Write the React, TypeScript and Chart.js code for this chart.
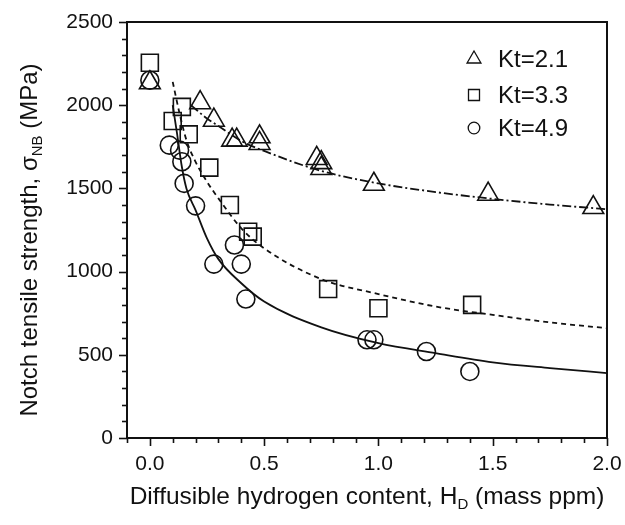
import React, { useEffect, useRef } from 'react';
import { Chart, registerables } from 'chart.js';

Chart.register(...registerables);

// ---- data ----
const seriesNames = ['Kt=2.1', 'Kt=3.3', 'Kt=4.9'];

const kt21X = [0.0, 0.22, 0.28, 0.36, 0.38, 0.48, 0.48, 0.73, 0.75, 0.75, 0.98, 1.48, 1.94];
const kt21Y = [2135, 2015, 1910, 1790, 1790, 1810, 1770, 1680, 1655, 1620, 1525, 1465, 1385];

const kt33X = [0.0, 0.10, 0.14, 0.17, 0.26, 0.35, 0.43, 0.45, 0.78, 1.0, 1.41];
const kt33Y = [2255, 1905, 1990, 1825, 1625, 1400, 1240, 1210, 895, 780, 800];

const kt49X = [0.0, 0.085, 0.13, 0.14, 0.15, 0.20, 0.28, 0.37, 0.40, 0.42, 0.95, 0.98, 1.21, 1.40];
const kt49Y = [2150, 1760, 1730, 1660, 1530, 1395, 1045, 1160, 1045, 835, 590, 590, 520, 400];

// fitted curves
const fit21X = [0.18, 0.25, 0.3, 0.4, 0.5, 0.75, 1.0, 1.25, 1.5, 1.75, 2.0];
const fit21Y = [2000, 1920, 1875, 1785, 1725, 1605, 1530, 1478, 1437, 1403, 1375];

const fit33X = [0.1, 0.13, 0.16, 0.2, 0.25, 0.3, 0.4, 0.5, 0.75, 1.0, 1.25, 1.5, 1.75, 2.0];
const fit33Y = [2140, 1950, 1790, 1660, 1540, 1440, 1260, 1140, 955, 865, 790, 740, 695, 660];

const fit49X = [0.1, 0.12, 0.14, 0.16, 0.2, 0.25, 0.3, 0.4, 0.5, 0.75, 1.0, 1.25, 1.5, 1.75, 2.0];
const fit49Y = [2000, 1820, 1630, 1500, 1370, 1200, 1075, 930, 820, 665, 570, 510, 455, 420, 390];

const xTickValues = [0, 0.5, 1.0, 1.5, 2.0];
const yTickValues = [0, 500, 1000, 1500, 2000, 2500];
const xMin = -0.1;
const xMax = 2.0;
const yMin = 0;
const yMax = 2500;
const xMinorStep = 0.1;
const yMinorStep = 100;

const FONT = "'Liberation Sans', Arial, sans-serif";
const INK = '#111';

const pts = (xs: number[], ys: number[]) => xs.map((x, i) => ({ x, y: ys[i] }));

type Part = { text: string; sub?: boolean };

function drawRich(ctx: CanvasRenderingContext2D, parts: Part[], size: number) {
  const subSize = Math.round(size * 0.62);
  let total = 0;
  const widths = parts.map((p) => {
    ctx.font = `${p.sub ? subSize : size}px ${FONT}`;
    const w = ctx.measureText(p.text).width;
    total += w;
    return w;
  });
  let x = -total / 2;
  parts.forEach((p, i) => {
    ctx.font = `${p.sub ? subSize : size}px ${FONT}`;
    ctx.fillText(p.text, x, p.sub ? size * 0.32 : 0);
    x += widths[i];
  });
}

const framePlugin = {
  id: 'frame',
  afterDraw(chart: any) {
    const { ctx, chartArea: a, scales } = chart;
    const xs = scales.x;
    const ys = scales.y;
    ctx.save();
    ctx.strokeStyle = INK;
    ctx.lineCap = 'butt';
    // frame
    ctx.lineWidth = 2;
    ctx.strokeRect(a.left, a.top, a.right - a.left, a.bottom - a.top);
    // x ticks
    ctx.lineWidth = 1.6;
    const nx = Math.round((xMax - xMin) / xMinorStep);
    for (let i = 0; i <= nx; i++) {
      const v = xMin + i * xMinorStep;
      const major = xTickValues.some((t) => Math.abs(t - v) < 1e-6);
      const px = Math.round(xs.getPixelForValue(v)) + 0.5;
      ctx.beginPath();
      ctx.moveTo(px, a.bottom);
      ctx.lineTo(px, a.bottom + (major ? 8 : 5));
      ctx.stroke();
    }
    const ny = Math.round((yMax - yMin) / yMinorStep);
    for (let i = 0; i <= ny; i++) {
      const v = yMin + i * yMinorStep;
      const major = yTickValues.some((t) => Math.abs(t - v) < 1e-6);
      const py = Math.round(ys.getPixelForValue(v)) + 0.5;
      ctx.beginPath();
      ctx.moveTo(a.left, py);
      ctx.lineTo(a.left - (major ? 8 : 5), py);
      ctx.stroke();
    }
    // axis titles
    ctx.fillStyle = INK;
    ctx.textBaseline = 'middle';
    ctx.textAlign = 'left';
    ctx.save();
    ctx.translate(367, 497);
    drawRich(ctx, [
      { text: 'Diffusible hydrogen content, H' },
      { text: 'D', sub: true },
      { text: ' (mass ppm)' },
    ], 24.5);
    ctx.restore();
    ctx.save();
    ctx.translate(30, 240);
    ctx.rotate(-Math.PI / 2);
    drawRich(ctx, [
      { text: 'Notch tensile strength, σ' },
      { text: 'NB', sub: true },
      { text: ' (MPa)' },
    ], 24);
    ctx.restore();

    // legend
    const rows = [59, 95, 128];
    const sx = 474;
    ctx.lineWidth = 1.3;
    ctx.strokeStyle = INK;
    rows.forEach((cy, i) => {
      ctx.beginPath();
      if (i === 0) {
        const r = 8;
        ctx.moveTo(sx, cy - r);
        ctx.lineTo(sx + r * Math.sin((2 * Math.PI) / 3), cy + r / 2);
        ctx.lineTo(sx - r * Math.sin((2 * Math.PI) / 3), cy + r / 2);
        ctx.closePath();
      } else if (i === 1) {
        ctx.rect(sx - 5.5, cy - 5.5, 11, 11);
      } else {
        ctx.arc(sx, cy, 5.8, 0, Math.PI * 2);
      }
      ctx.stroke();
      ctx.font = `24px ${FONT}`;
      ctx.textAlign = 'left';
      ctx.textBaseline = 'middle';
      ctx.fillText(seriesNames[i], 498, cy + 1);
    });
    ctx.restore();
  },
};

export default function App() {
  const ref = useRef<HTMLCanvasElement | null>(null);

  useEffect(() => {
    document.body.style.margin = '0';
    const canvas = ref.current;
    if (!canvas) return;
    const markerCommon = {
      showLine: false,
      borderColor: INK,
      backgroundColor: 'rgba(0,0,0,0)',
      borderWidth: 1.6,
    };
    const curveCommon = {
      showLine: true,
      borderColor: INK,
      borderWidth: 1.8,
      pointRadius: 0,
      cubicInterpolationMode: 'monotone' as const,
      fill: false,
    };
    const chart = new Chart(canvas, {
      type: 'scatter',
      data: {
        datasets: [
          { ...curveCommon, label: 'fit 2.1', data: pts(fit21X, fit21Y), borderDash: [9, 3, 2, 3] },
          { ...curveCommon, label: 'fit 3.3', data: pts(fit33X, fit33Y), borderDash: [5, 4] },
          { ...curveCommon, label: 'fit 4.9', data: pts(fit49X, fit49Y) },
          { ...markerCommon, label: seriesNames[0], data: pts(kt21X, kt21Y), pointStyle: 'triangle', pointRadius: 12 },
          { ...markerCommon, label: seriesNames[1], data: pts(kt33X, kt33Y), pointStyle: 'rect', pointRadius: 12 },
          { ...markerCommon, label: seriesNames[2], data: pts(kt49X, kt49Y), pointStyle: 'circle', pointRadius: 9 },
        ],
      },
      options: {
        animation: false,
        responsive: false,
        maintainAspectRatio: false,
        layout: { padding: { top: 22, right: 18, left: 0, bottom: 0 } },
        plugins: {
          legend: { display: false },
          tooltip: { enabled: false },
        },
        scales: {
          x: {
            type: 'linear',
            min: xMin,
            max: xMax,
            grid: { display: false, drawTicks: false },
            border: { display: false },
            afterBuildTicks: (s: any) => {
              s.ticks = xTickValues.map((v) => ({ value: v }));
            },
            afterFit: (s: any) => {
              s.height = 87;
              s.paddingLeft = 0;
              s.paddingRight = 0;
            },
            ticks: {
              padding: 14,
              color: INK,
              font: { family: FONT, size: 21 },
              maxRotation: 0,
              callback: (v: any) => Number(v).toFixed(1),
            },
          },
          y: {
            type: 'linear',
            min: yMin,
            max: yMax,
            grid: { display: false, drawTicks: false },
            border: { display: false },
            afterBuildTicks: (s: any) => {
              s.ticks = yTickValues.map((v) => ({ value: v }));
            },
            afterFit: (s: any) => {
              s.width = 127;
              s.paddingTop = 0;
              s.paddingBottom = 0;
            },
            ticks: {
              padding: 14,
              color: INK,
              font: { family: FONT, size: 21 },
              callback: (v: any) => String(v),
            },
          },
        },
      },
      plugins: [framePlugin],
    });
    return () => chart.destroy();
  }, []);

  return (
    <div style={{ width: 625, height: 525 }}>
      <canvas ref={ref} width={625} height={525} />
    </div>
  );
}
